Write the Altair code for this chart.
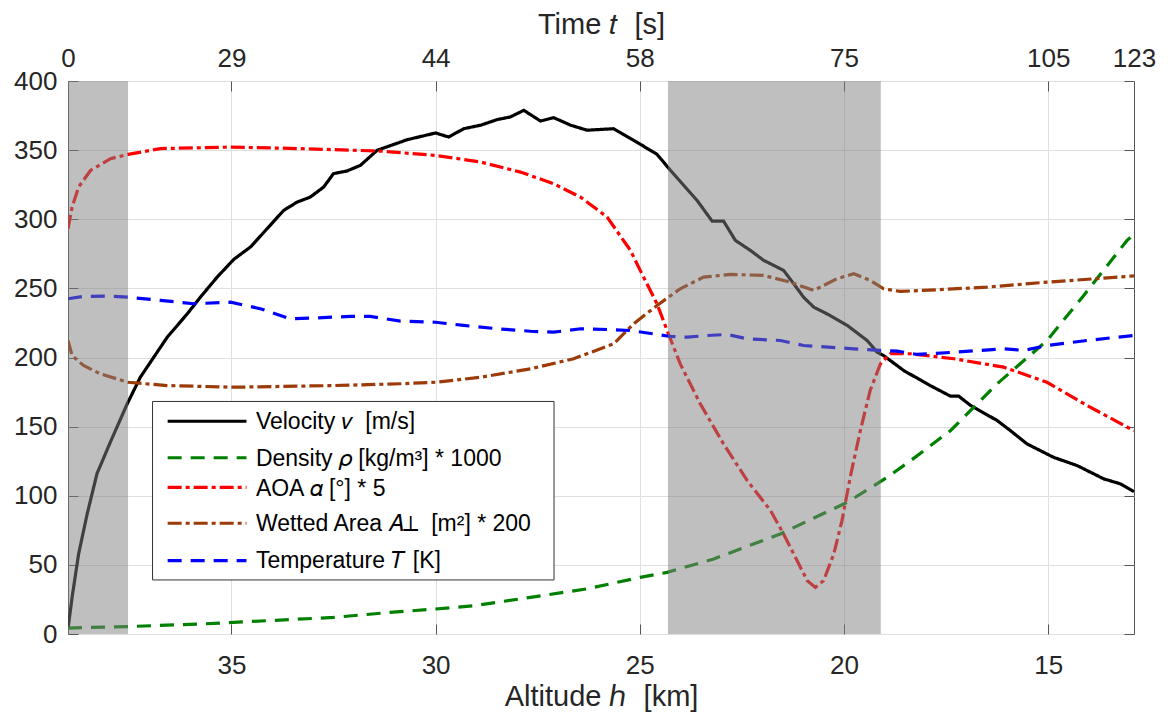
import json
import altair as alt
import pandas as pd

# ---------------- data ----------------
series_names = ["Velocity", "Density", "AOA", "Wetted Area", "Temperature"]
series_colors = ["#000000", "#008000", "#ff0000", "#9c3a08", "#0000ff"]
series_dashes = [[1, 0], [14, 9], [14, 4, 4, 4], [14, 4, 4, 4], [14, 9]]
legend_labels = [
    "Velocity 𝑣\u00a0 [m/s]",
    "Density 𝜌 [kg/m³] * 1000",
    "AOA 𝛼 [°] * 5",
    "Wetted Area 𝐴⊥\u00a0 [m²] * 200",
    "Temperature 𝑇 [K]",
]

velocity_alt = [39.0, 38.90, 38.74, 38.53, 38.29, 37.96, 37.55, 37.23, 36.57,
                36.08, 35.76, 35.35, 34.94, 34.53, 34.13, 33.72, 33.39, 33.07, 32.74,
                32.50, 32.17, 31.84, 31.43, 30.86, 30.70, 30.00, 29.68, 29.31, 28.90,
                28.49, 28.17, 27.84, 27.43, 27.11, 26.69, 26.29, 25.64, 25.15, 24.58,
                24.25, 23.60, 23.23, 22.95, 22.66, 22.29, 21.97, 21.80, 21.48, 21.23,
                20.99, 20.74, 20.34, 19.92, 19.43, 19.19, 19.03, 18.54, 17.89, 17.39,
                17.19, 16.90, 16.25, 15.93, 15.52, 14.87, 14.29, 13.64, 13.23, 12.9]
velocity_val = [3.6, 26.5, 57.9, 86.9, 116, 139, 166.5, 185.7, 214.7,
                231.6, 243.6, 258.1, 271, 280, 293, 306.4, 312.4, 316, 323.3,
                333, 334.9, 339, 349.9, 355.8, 357.5, 362.4, 359.5, 365.5, 368,
                372.1, 374, 378.8, 371, 373.5, 368, 364.4, 365.5, 357.1, 347,
                335.4, 313.7, 298.7, 298.7, 284.7, 277.4, 270.3, 267.8, 263, 253.3,
                243.6, 236.4, 230.4, 223.2, 212.2, 203.8, 201.4, 190.6, 179.7, 172,
                172, 165.3, 154.4, 147.2, 137.5, 127.8, 121.8, 112.2, 108.6, 103]

density_alt = [39.0, 37.40, 35.77, 34.14, 32.50, 31.12, 30.0, 29.05, 27.68, 26.30,
               24.99, 24.33, 23.19, 21.56, 19.92, 18.94, 18.37, 17.39, 16.25, 15.03,
               14.13, 13.07, 12.9]
density_val = [4.3, 5.5, 7.2, 9.6, 12.0, 15.6, 18.1, 20.5, 26.5, 32.6,
               41.0, 44.6, 54.3, 72.4, 95.3, 113.4, 125.4, 147.2, 181.0, 212.3,
               244.9, 284.7, 289]

aoa_alt = [39.0, 38.90, 38.74, 38.45, 37.96, 37.53, 36.74, 35.02, 33.31, 31.35,
           30.00, 28.90, 27.92, 27.11, 26.45, 25.80, 25.23, 24.99, 24.58, 24.33,
           24.01, 23.52, 22.95, 22.37, 21.80, 21.48, 21.15, 20.90, 20.70, 20.50,
           20.25, 20.05, 19.84, 19.60, 19.36, 19.11, 18.87, 18.37, 17.31, 16.09,
           15.03, 14.05, 12.9]
aoa_val = [293.2, 308.8, 323.3, 335.3, 343.8, 346.9, 351.1, 352.2, 351.1, 349.3,
           346.2, 341.4, 334.1, 325.7, 316.0, 301.6, 277.5, 263.0, 238.9, 219.5,
           195.4, 166.5, 137.5, 111.0, 89.3, 72.4, 53.1, 38.6, 33.7, 38.6,
           57.9, 82.0, 114.6, 147.2, 176.1, 195.4, 202.7, 202.7, 199.1, 193.0,
           182.1, 165.3, 147]

area_alt = [39.0, 38.90, 38.62, 38.21, 37.53, 36.57, 34.94, 32.50, 30.86, 30.00,
            28.90, 27.68, 26.62, 25.64, 25.15, 24.58, 24.01, 23.44, 22.79, 21.97,
            21.32, 20.74, 20.17, 19.76, 19.35, 19.03, 18.62, 17.72, 16.50, 15.03,
            13.64, 12.9]
area_val = [212.3, 201.4, 194.2, 188.2, 182.1, 179.7, 178.5, 179.7, 181.0, 182.1,
            185.7, 191.8, 199.1, 209.9, 224.4, 237.6, 249.7, 258.1, 260.1, 259.4,
            254.5, 248.5, 257.0, 260.6, 255.7, 249.7, 247.8, 249.0, 250.9, 254.5,
            257.4, 259]

temp_alt = [39.0, 38.62, 37.96, 37.53, 36.74, 35.92, 35.02, 34.29, 33.80, 33.56,
            32.90, 32.09, 31.60, 30.86, 30.00, 29.31, 28.49, 27.68, 27.11, 26.45,
            25.64, 25.23, 24.58, 24.25, 23.84, 23.35, 22.86, 22.37, 21.56, 20.99,
            19.76, 19.11, 18.70, 18.21, 17.31, 16.09, 15.60, 15.03, 14.05, 12.9]
temp_val = [242.5, 244.2, 244.4, 243.6, 241.3, 238.9, 240.0, 235.3, 230.4, 228.0,
            228.7, 229.7, 229.7, 226.3, 225.5, 223.2, 220.8, 219.0, 218.3, 220.8,
            220.1, 219.5, 216.7, 215.2, 214.7, 215.9, 216.7, 213.5, 212.3, 208.7,
            206.3, 205.1, 204.6, 202.2, 203.8, 206.3, 205.1, 208.7, 212.3, 216]

band_start = [39.0, 24.31]
band_end = [37.53, 19.10]

alt_ticks = [35, 30, 25, 20, 15]
time_tick_alt = [39.0, 35, 30, 25, 20, 15, 12.9]
time_tick_labels = ["0", "29", "44", "58", "75", "105", "123"]
y_ticks = [0, 50, 100, 150, 200, 250, 300, 350, 400]

x_title = "Altitude ℎ\u00a0 [km]"
top_title = "Time 𝑡\u00a0 [s]"

# ---------------- layout constants ----------------
X_MIN, X_MAX = 12.9, 39.0
Y_MIN, Y_MAX = 0, 400
W, H = 1066, 553
FONT = "Liberation Sans"
TXT = "#262626"
FRAME = "#555555"
LW = 3.2

# legend placement (in data units of the axes)
legend_box = {"x1": 36.93, "x2": 27.10, "y1": 168.2, "y2": 39.1}
legend_sym_x = (36.56, 34.63)
legend_text_x = 34.40
legend_sym_y = [153.9, 127.5, 106.1, 80.1, 53.1]
legend_text_y = [153.5, 126.7, 105.2, 79.6, 52.6]

# ---------------- tables ----------------
rows = []
for name, xa, ya in zip(series_names,
                        [velocity_alt, density_alt, aoa_alt, area_alt, temp_alt],
                        [velocity_val, density_val, aoa_val, area_val, temp_val]):
    for i, (a, v) in enumerate(zip(xa, ya)):
        rows.append({"series": name, "alt": a, "val": v, "idx": i})
df = pd.DataFrame(rows)

bands_df = pd.DataFrame({"start": band_start, "end": band_end,
                         "lo": [Y_MIN] * len(band_start), "hi": [Y_MAX] * len(band_start)})
box_df = pd.DataFrame([legend_box])
leg_df = pd.DataFrame({
    "series": series_names, "label": legend_labels,
    "sx1": [legend_sym_x[0]] * 5, "sx2": [legend_sym_x[1]] * 5,
    "sy": legend_sym_y, "tx": [legend_text_x] * 5, "ty": legend_text_y,
})

x_scale = alt.Scale(domain=[X_MIN, X_MAX], reverse=True, nice=False, zero=False)
y_scale = alt.Scale(domain=[Y_MIN, Y_MAX], nice=False, zero=False)
color_scale = alt.Scale(domain=series_names, range=series_colors)
dash_scale = alt.Scale(domain=series_names, range=series_dashes)

tick_only = dict(labels=False, ticks=True, tickSize=10, tickColor=FRAME, tickWidth=1,
                 grid=False, domain=False, title=None)
label_style = dict(labelFontSize=26, labelColor=TXT, labelFont=FONT,
                   titleFontSize=29, titleColor=TXT, titleFont=FONT, titleFontWeight="normal",
                   labelFlush=False, labelOverlap=False)

time_expr = f"{json.dumps(time_tick_labels)}[indexof({json.dumps(time_tick_alt)}, datum.value)]"

lines = alt.Chart(df).mark_line(strokeWidth=LW, clip=True).encode(
    x=alt.X("alt:Q", scale=x_scale,
            axis=alt.Axis(orient="bottom", values=alt_ticks, format="d",
                          title=x_title, grid=True, gridColor="#dfdfdf",
                          gridWidth=1, ticks=False, tickSize=0, domain=False,
                          labelPadding=18, titlePadding=4, **label_style)),
    y=alt.Y("val:Q", scale=y_scale,
            axis=alt.Axis(orient="left", values=y_ticks, format="d", title=None,
                          grid=True, gridColor="#dfdfdf", gridWidth=1, ticks=False,
                          tickSize=0, domain=False, labelPadding=11, **label_style)),
    color=alt.Color("series:N", scale=color_scale, legend=None),
    strokeDash=alt.StrokeDash("series:N", scale=dash_scale, legend=None),
    order=alt.Order("idx:Q"),
)

bands = alt.Chart(bands_df).mark_rect(fill="#808080", fillOpacity=0.5).encode(
    x=alt.X("start:Q", scale=x_scale,
            axis=alt.Axis(orient="top", values=time_tick_alt, labelExpr=time_expr,
                          title=top_title, grid=False, ticks=False, tickSize=0,
                          domain=False, labelPadding=10, titlePadding=6, **label_style)),
    x2="end:Q",
    y=alt.Y("lo:Q", scale=y_scale,
            axis=alt.Axis(orient="right", offset=-W, values=y_ticks, **tick_only)),
    y2="hi:Q",
)

box = alt.Chart(box_df).mark_rect(fill="white", stroke="#333333", strokeWidth=1).encode(
    x=alt.X("x1:Q", scale=x_scale,
            axis=alt.Axis(orient="top", offset=-H, values=alt_ticks, **tick_only)),
    x2="x2:Q",
    y=alt.Y("y1:Q", scale=y_scale,
            axis=alt.Axis(orient="left", offset=-W, values=y_ticks, **tick_only)),
    y2="y2:Q",
)

leg_rules = alt.Chart(leg_df).mark_rule(strokeWidth=LW).encode(
    x=alt.X("sx1:Q", scale=x_scale,
            axis=alt.Axis(orient="bottom", offset=-H, values=alt_ticks, **tick_only)),
    x2="sx2:Q",
    y=alt.Y("sy:Q", scale=y_scale, axis=None),
    color=alt.Color("series:N", scale=color_scale, legend=None),
    strokeDash=alt.StrokeDash("series:N", scale=dash_scale, legend=None),
)

leg_text = alt.Chart(leg_df).mark_text(align="left", baseline="middle", fontSize=23,
                                       color="#000000", font=FONT).encode(
    x=alt.X("tx:Q", scale=x_scale, axis=None),
    y=alt.Y("ty:Q", scale=y_scale, axis=None),
    text="label:N",
)

chart = alt.layer(lines, bands, box, leg_rules, leg_text).resolve_axis(
    x="independent", y="independent"
).properties(
    width=W, height=H,
    autosize=alt.AutoSizeParams(type="none"),
    padding={"left": 60, "top": 73, "right": 26, "bottom": 78},
).configure(font=FONT).configure_view(stroke=FRAME, strokeWidth=1)

chart.save("out.html", embed_options={"renderer": "svg", "actions": False})
